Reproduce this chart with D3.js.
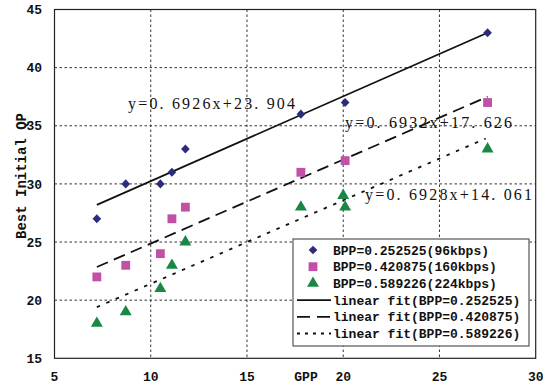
<!DOCTYPE html>
<html>
<head>
<meta charset="utf-8">
<script src="https://cdn.jsdelivr.net/npm/d3@7"></script>
<style>
  body { margin: 0; background: #fff; }
  svg { display: block; }
  .tick-label { font-family: "Liberation Mono", monospace; font-weight: bold; font-size: 13px; fill: #111; }
  .legend-text { font-family: "Liberation Mono", monospace; font-weight: bold; font-size: 13px; fill: #111; }
  .eq { font-family: "Liberation Serif", serif; font-size: 16px; fill: #111; }
</style>
</head>
<body>
<div class="chart"></div>
<script>
// measured points, GPP vs best initial QP
var gpp_96 = [7.2, 8.7, 10.5, 11.1, 11.8, 17.8, 20.1, 27.5];
var qp_96 = [27, 30, 30, 31, 33, 36, 37, 43];
var gpp_160 = [7.2, 8.7, 10.5, 11.1, 11.8, 17.8, 20.1, 27.5];
var qp_160 = [22, 23, 24, 27, 28, 31, 32, 37];
var gpp_224 = [7.2, 8.7, 10.5, 11.1, 11.8, 17.8, 20.0, 20.1, 27.5];
var qp_224 = [18, 19, 21, 23, 25, 28, 29, 28, 33];

// fitted lines as drawn (start / end)
var fit_96 = [[7.2, 28.2], [27.5, 43.0]];
var fit_160 = [[7.2, 22.85], [27.5, 37.5]];
var fit_224 = [[7.2, 19.4], [27.4, 33.9]];

var equations = ["y=0. 6926x+23. 904", "y=0. 6932x+17. 626", "y=0. 6928x+14. 061"];
var legend_labels = [
  "BPP=0.252525(96kbps)",
  "BPP=0.420875(160kbps)",
  "BPP=0.589226(224kbps)",
  "linear fit(BPP=0.252525)",
  "linear fit(BPP=0.420875)",
  "linear fit(BPP=0.589226)"
];
var x_ticks = [5, 10, 15, 20, 25, 30];
var y_ticks = [15, 20, 25, 30, 35, 40, 45];

var W = 547, H = 385;
var margin = { top: 9.5, right: 11.3, bottom: 26.7, left: 54.5 },
  width = W - margin.left - margin.right,
  height = H - margin.top - margin.bottom;

var col_96 = "#2c2c7e", col_160 = "#c150a7", col_224 = "#1a8744";

const svg = d3
  .select(".chart")
  .append("svg")
  .attr("width", W)
  .attr("height", H);

const g = svg.append("g")
  .attr("transform", "translate(" + margin.left + "," + margin.top + ")");

var x = d3.scaleLinear().domain([5, 30]).range([0, width]);
var y = d3.scaleLinear().domain([15, 45]).range([height, 0]);

//grid
g.selectAll(".vgrid")
  .data(x_ticks.slice(1, -1))
  .enter().append("line")
  .attr("x1", d => x(d)).attr("x2", d => x(d))
  .attr("y1", 0).attr("y2", height)
  .attr("stroke", "#333").attr("stroke-width", 1).attr("stroke-dasharray", "2.5,2.5");

g.selectAll(".hgrid")
  .data(y_ticks.slice(1, -1))
  .enter().append("line")
  .attr("y1", d => y(d)).attr("y2", d => y(d))
  .attr("x1", 0).attr("x2", width)
  .attr("stroke", "#333").attr("stroke-width", 1).attr("stroke-dasharray", "2.5,2.5");

//frame
g.append("rect")
  .attr("width", width).attr("height", height)
  .attr("fill", "none").attr("stroke", "#222").attr("stroke-width", 1.2);

//tick labels
svg.selectAll(".xt")
  .data(x_ticks)
  .enter().append("text")
  .attr("class", "tick-label")
  .attr("x", d => margin.left + x(d))
  .attr("y", 381)
  .attr("text-anchor", "middle")
  .text(d => d);

svg.selectAll(".yt")
  .data(y_ticks)
  .enter().append("text")
  .attr("class", "tick-label")
  .attr("x", 42)
  .attr("y", d => margin.top + y(d))
  .attr("dy", "0.36em")
  .attr("text-anchor", "end")
  .text(d => d);

svg.append("text")
  .attr("class", "tick-label")
  .attr("x", 306).attr("y", 381)
  .attr("text-anchor", "middle")
  .text("GPP");

svg.append("text")
  .attr("class", "tick-label")
  .style("font-size", "14px")
  .attr("transform", "translate(21,176) rotate(-90)")
  .attr("dy", "0.35em")
  .attr("text-anchor", "middle")
  .text("Best Initial QP");

//fit lines
var line = d3.line().x(d => x(d[0])).y(d => y(d[1]));
var fits = [
  { pts: fit_96, dash: null },
  { pts: fit_160, dash: "12,6.5" },
  { pts: fit_224, dash: "3.5,6.8" }
];
g.selectAll(".fit")
  .data(fits)
  .enter().append("path")
  .attr("d", d => line(d.pts))
  .attr("fill", "none")
  .attr("stroke", "#111")
  .attr("stroke-width", 1.8)
  .attr("stroke-dasharray", d => d.dash);

//markers
var diamond = d3.symbol().type(d3.symbolDiamond2).size(48);
var square = d3.symbol().type(d3.symbolSquare).size(78);
var triangle = d3.symbol().type(d3.symbolTriangle).size(62);

g.selectAll(".s96")
  .data(d3.zip(gpp_96, qp_96))
  .enter().append("path")
  .attr("d", diamond)
  .attr("transform", d => "translate(" + x(d[0]) + "," + y(d[1]) + ") scale(1,1.05)")
  .attr("fill", col_96);

g.selectAll(".s160")
  .data(d3.zip(gpp_160, qp_160))
  .enter().append("path")
  .attr("d", square)
  .attr("transform", d => "translate(" + x(d[0]) + "," + y(d[1]) + ")")
  .attr("fill", col_160);

g.selectAll(".s224")
  .data(d3.zip(gpp_224, qp_224))
  .enter().append("path")
  .attr("d", triangle)
  .attr("transform", d => "translate(" + x(d[0]) + "," + y(d[1]) + ")")
  .attr("fill", col_224);

//equations
var eq_pos = [[128, 109], [345, 128], [365, 200]];
svg.selectAll(".eq")
  .data(equations)
  .enter().append("text")
  .attr("class", "eq")
  .attr("x", (d, i) => eq_pos[i][0])
  .attr("y", (d, i) => eq_pos[i][1])
  .attr("textLength", 167)
  .attr("lengthAdjust", "spacing")
  .text(d => d);

//legend
var lg = svg.append("g").attr("transform", "translate(293,239)");
lg.append("rect")
  .attr("width", 236).attr("height", 107)
  .attr("fill", "#fff").attr("stroke", "#555").attr("stroke-width", 1.2);

var row_y = i => 11 + i * 16.7;

lg.selectAll(".lt")
  .data(legend_labels)
  .enter().append("text")
  .attr("class", "legend-text")
  .attr("x", 40)
  .attr("y", (d, i) => row_y(i))
  .attr("dy", "0.35em")
  .text(d => d);

lg.append("path").attr("d", diamond).attr("transform", "translate(20," + row_y(0) + ")").attr("fill", col_96);
lg.append("path").attr("d", square).attr("transform", "translate(20," + row_y(1) + ")").attr("fill", col_160);
lg.append("path").attr("d", triangle).attr("transform", "translate(20," + row_y(2) + ")").attr("fill", col_224);

var legend_dash = [null, "13,7", "3,5"];
lg.selectAll(".ll")
  .data(legend_dash)
  .enter().append("line")
  .attr("x1", 4).attr("x2", 38)
  .attr("y1", (d, i) => row_y(i + 3)).attr("y2", (d, i) => row_y(i + 3))
  .attr("stroke", "#111").attr("stroke-width", 1.8)
  .attr("stroke-dasharray", d => d);
</script>
</body>
</html>
